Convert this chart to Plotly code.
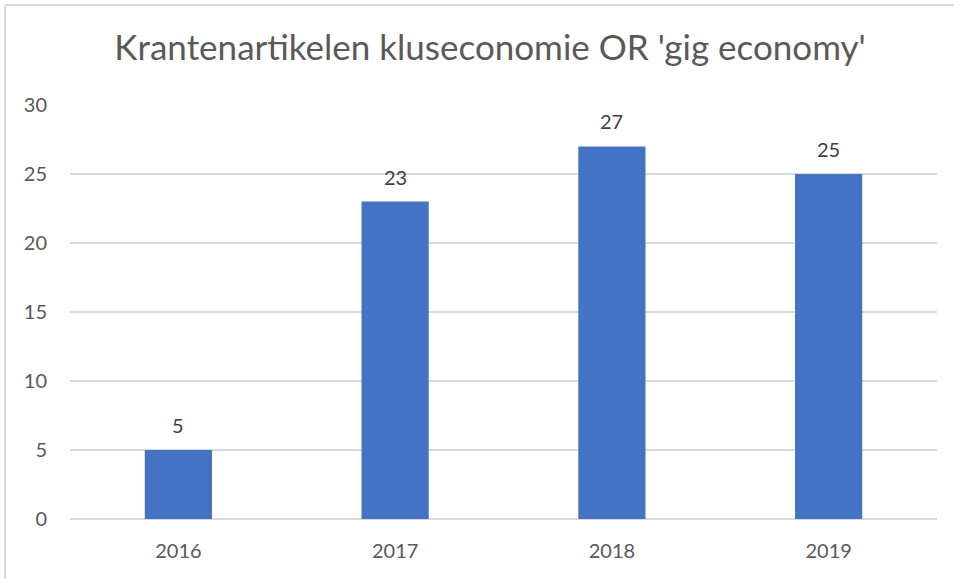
import plotly.graph_objects as go

years = ["2016", "2017", "2018", "2019"]
counts = [5, 23, 27, 25]
title_text = "Krantenartikelen kluseconomie OR 'gig economy'"

W, H = 954, 579
L, R, T, B = 70, 17, 105, 60
pw, ph = W - L - R, H - T - B

def px(x):
    return (x - L) / pw

def py(y):
    return (H - B - y) / ph

fig = go.Figure(go.Bar(
    x=years, y=counts,
    marker=dict(color="#4472C4", line=dict(width=0)),
    width=0.31,
    hoverinfo="x+y",
))

fig.update_layout(
    width=W, height=H,
    margin=dict(l=L, r=R, t=T, b=B),
    paper_bgcolor="white", plot_bgcolor="white",
    font=dict(family="Lato", color="#595959"),
    title=dict(text=title_text, xref="container", x=490 / W, xanchor="center",
               yref="container", y=1 - 48 / H, yanchor="middle",
               font=dict(size=35, color="#595959", family="Lato")),
    showlegend=False,
    xaxis=dict(type="category", range=[-0.5, len(years) - 0.5],
               categoryorder="array", categoryarray=years,
               showgrid=False, showline=False, ticks="",
               tickfont=dict(size=20, color="#595959"), ticklabelstandoff=18),
    yaxis=dict(range=[0, 30], dtick=5, showgrid=True, gridcolor="#d9d9d9",
               gridwidth=1.5, zeroline=True, zerolinecolor="#d9d9d9",
               zerolinewidth=1.5, showline=False, ticks="",
               tickfont=dict(size=20, color="#595959"), ticklabelstandoff=22),
    annotations=[
        dict(x=i, y=c, xref="x", yref="y", text=str(c), showarrow=False,
             yanchor="middle", yshift=25,
             font=dict(size=20, color="#404040", family="Lato"))
        for i, c in enumerate(counts)
    ],
    shapes=[
        dict(type="line", xref="paper", yref="paper",
             x0=px(5), x1=px(W + 5), y0=py(5), y1=py(5),
             line=dict(color="#d9d9d9", width=2)),
        dict(type="line", xref="paper", yref="paper",
             x0=px(5), x1=px(5), y0=py(5), y1=py(H + 5),
             line=dict(color="#d9d9d9", width=2)),
    ],
)

fig.write_html("out.html", config={"displayModeBar": False},
               post_script="document.body.style.margin='0';document.body.style.overflow='hidden';")
